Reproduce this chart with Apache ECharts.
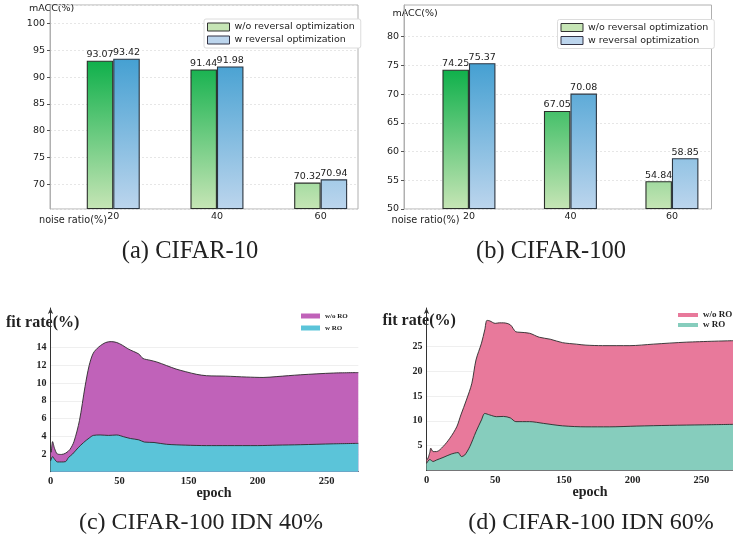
<!DOCTYPE html>
<html>
<head>
<meta charset="utf-8">
<script src="https://cdn.jsdelivr.net/npm/echarts@6/dist/echarts.min.js"></script>
<style>
  html, body { margin: 0; padding: 0; background: #fff; }
  #chart { width: 733px; height: 542px; }
</style>
</head>
<body>
<div id="chart"></div>
<script>
// ---- data ----
const noiseRatios = ['20', '40', '60'];
const cifar10Without = [93.07, 91.44, 70.32];
const cifar10With = [93.42, 91.98, 70.94];
const cifar100Without = [74.25, 67.05, 54.84];
const cifar100With = [75.37, 70.08, 58.85];

const epochTickLabels = ['0', '50', '150', '200', '250'];

// fit rate curves, [epoch position, fit rate %]
const idn40Without = [
  [0, 3.0], [0.5, 2.2], [1.5, 3.4], [3, 2.6], [5, 2.0], [8, 1.95], [11, 2.1], [14, 2.5],
  [17, 3.4], [21, 5.8], [25, 9.6], [28, 12.0], [31, 13.4], [35, 14.1], [40, 14.6], [44, 14.7],
  [48, 14.6], [52, 14.3], [56, 13.9], [60, 13.6], [64, 13.3], [67, 12.8], [72, 12.6], [77, 12.4],
  [84, 12.0], [91, 11.6], [98, 11.3], [106, 11.0], [113, 10.85], [127, 10.8], [142, 10.7],
  [154, 10.65], [164, 10.75], [181, 10.95], [205, 11.15], [223, 11.2]
];
const idn40With = [
  [0, 1.2], [1.5, 1.7], [3, 1.4], [5, 1.1], [8, 1.1], [11, 1.15], [13, 1.6], [16, 2.0],
  [20, 2.7], [24, 3.3], [28, 3.8], [31, 4.1], [36, 4.15], [42, 4.1], [48, 4.15], [53, 3.95],
  [58, 3.75], [64, 3.6], [68, 3.35], [75, 3.3], [84, 3.1], [98, 3.0], [113, 2.95], [128, 2.95],
  [150, 2.95], [164, 3.0], [181, 3.05], [205, 3.15], [223, 3.2]
];
const idn60Without = [
  [0, 2.7], [0.5, 2.2], [2.4, 3.6], [3.1, 4.5], [4.8, 3.8], [7.3, 3.8], [12, 4.8], [17, 6.5],
  [22, 8.8], [25, 11.2], [29, 14.2], [33, 17.6], [36, 22.3], [40, 25.7], [42.4, 28.4], [44, 30.3],
  [46, 30.2], [50, 29.7], [53, 29.8], [56, 29.8], [61, 29.4], [65, 28.0], [68, 27.9], [75, 27.7],
  [82, 26.9], [90, 26.5], [99, 25.8], [109, 25.5], [116, 25.3], [128, 25.2], [148, 25.2],
  [165, 25.5], [189, 25.9], [223, 26.2]
];
const idn60With = [
  [0, 1.4], [2.4, 2.2], [4.8, 1.8], [7.3, 2.1], [12, 2.6], [18, 3.3], [23, 3.6], [25.4, 2.8],
  [27.8, 3.1], [31.5, 4.8], [36, 7.8], [40, 10.2], [42.4, 11.5], [46, 11.2], [51, 10.85],
  [56, 10.9], [61, 10.6], [65, 9.85], [75, 9.85], [85, 9.5], [99, 9.0], [116, 8.8], [133, 8.8],
  [153, 8.95], [177, 9.1], [201, 9.2], [223, 9.3]
];

// ---- styling helpers ----
const SANS = 'DejaVu Sans';
const SERIF = 'Liberation Serif';
const GREEN_LIGHT = '#c6e5b5', GREEN_DARK = '#0fb04b';
const BLUE_LIGHT = '#bcd5ed', BLUE_DARK = '#45a0d2';
const PURPLE = '#c062b9', CYAN = '#5bc4d9';
const PINK = '#e8799b', TEAL = '#86cdbd';

function hexToRgb(h) {
  const n = parseInt(h.slice(1), 16);
  return [(n >> 16) & 255, (n >> 8) & 255, n & 255];
}
function mix(a, b, t) {
  const c1 = hexToRgb(a), c2 = hexToRgb(b);
  const c = c1.map((v, i) => Math.round(v + (c2[i] - v) * t));
  return 'rgb(' + c.join(',') + ')';
}
// colour depends on the bar's height so the shading reads as one vertical ramp
function barGradient(v, axisMin, seriesMax, light, dark) {
  const t = Math.max(0, Math.min(1, (v - axisMin) / (seriesMax - axisMin)));
  return {
    type: 'linear', x: 0, y: 0, x2: 0, y2: 1,
    colorStops: [{ offset: 0, color: mix(light, dark, t) }, { offset: 1, color: light }]
  };
}

function barSeries(name, values, axisIdx, axisMin, light, dark, edge) {
  const vmax = Math.max(...values);
  return {
    type: 'bar', name, xAxisIndex: axisIdx, yAxisIndex: axisIdx,
    barWidth: 26.5, barGap: '0%',
    itemStyle: { color: light, borderColor: edge, borderWidth: 1.1 },
    data: values.map((v, i) => ({
      value: [i, v],
      itemStyle: { color: barGradient(v, axisMin, vmax, light, dark) }
    })),
    label: {
      show: true, position: 'top', distance: 1,
      formatter: p => p.value[1].toFixed(2),
      fontFamily: SANS, fontSize: 9.5, color: '#222'
    }
  };
}

function areaSeries(name, points, axisIdx, fill) {
  return {
    type: 'line', name, xAxisIndex: axisIdx, yAxisIndex: axisIdx,
    data: points, symbol: 'none', smooth: 0.3,
    lineStyle: { color: '#2a2a2a', width: 0.9 },
    itemStyle: { color: fill },
    areaStyle: { color: fill, opacity: 1 }
  };
}

function hiddenXAxis(gridIndex, min, max) {
  return { type: 'value', gridIndex, min, max, show: false };
}
function barXAxis(gridIndex, min, max) {
  return {
    type: 'value', gridIndex, min, max,
    axisLine: { show: false, onZero: false }, axisTick: { show: false }, splitLine: { show: false },
    axisLabel: {
      customValues: noiseRatios.map((_, i) => i),
      formatter: v => noiseRatios[Math.round(v)],
      fontFamily: SANS, fontSize: 9.5, color: '#222', margin: 3
    }
  };
}
// frame-side axis of a bar panel: only the spine
function barSpineYAxis(gridIndex, min, max) {
  return {
    type: 'value', gridIndex, min, max, startValue: min,
    axisLine: { show: true, onZero: false, lineStyle: { color: '#b0b0b0' } },
    axisTick: { show: false }, axisLabel: { show: false }, splitLine: { show: false }
  };
}
// tick labels, tick marks and dashed grid lines of a bar panel
function barTickYAxis(gridIndex, min, max, interval) {
  return {
    type: 'value', gridIndex, min, max, interval,
    axisLine: { show: false, onZero: false },
    axisTick: { show: true, length: 3, lineStyle: { color: '#555' } },
    axisLabel: { fontFamily: SANS, fontSize: 9.5, color: '#222', margin: 5 },
    splitLine: { show: true, lineStyle: { color: '#e6e6e6', type: [2, 2] } }
  };
}
function epochXAxis(gridIndex) {
  return {
    type: 'value', gridIndex, min: 0, max: 223, interval: 50,
    axisLine: { show: true, onZero: false, lineStyle: { color: '#222', width: 1 } },
    axisTick: { show: false }, splitLine: { show: false },
    axisLabel: {
      showMaxLabel: false,
      formatter: v => (v % 50 === 0 ? epochTickLabels[v / 50] : ''),
      fontFamily: SERIF, fontWeight: 'bold', fontSize: 10.5, color: '#222', margin: 4
    }
  };
}
function arrowYAxis(gridIndex, max) {
  return {
    type: 'value', gridIndex, min: 0, max,
    axisLine: { show: true, onZero: false, symbol: ['none', 'arrow'], symbolSize: [4, 6], lineStyle: { color: '#333', width: 1 } },
    axisTick: { show: false }, axisLabel: { show: false }, splitLine: { show: false }
  };
}
function labelYAxis(gridIndex, max, interval) {
  return {
    type: 'value', gridIndex, min: 0, max, interval,
    axisLine: { show: false, onZero: false }, axisTick: { show: false },
    axisLabel: { showMinLabel: false, fontFamily: SERIF, fontWeight: 'bold', fontSize: 10, color: '#222', margin: 4 },
    splitLine: { show: true, lineStyle: { color: '#efefef', width: 1 } }
  };
}

function barLegend(left, top) {
  return {
    left, top, orient: 'vertical', icon: 'rect',
    itemWidth: 22, itemHeight: 8, itemGap: 3,
    padding: [3, 6, 3, 3],
    borderColor: '#dcdcdc', borderWidth: 1, borderRadius: 2, backgroundColor: '#fff',
    textStyle: { fontFamily: SANS, fontSize: 9.5, color: '#222' },
    data: [
      { name: 'w/o reversal optimization', itemStyle: { color: GREEN_LIGHT, borderColor: '#333', borderWidth: 1 } },
      { name: 'w reversal optimization', itemStyle: { color: BLUE_LIGHT, borderColor: '#334', borderWidth: 1 } }
    ]
  };
}
function areaLegend(left, top, c1, c2, fontSize, w, h, gap) {
  return {
    left, top, orient: 'vertical', icon: 'rect',
    itemWidth: w, itemHeight: h, itemGap: gap, padding: 0,
    textStyle: { fontFamily: SERIF, fontWeight: 'bold', fontSize, color: '#222' },
    data: [
      { name: 'w/o RO', itemStyle: { color: c1, borderWidth: 0 } },
      { name: 'w RO', itemStyle: { color: c2, borderWidth: 0 } }
    ]
  };
}

function label(text, x, y, font, align) {
  return {
    type: 'text', x, y,
    style: { text, font, fill: '#222', align: align || 'left', verticalAlign: 'middle' }
  };
}

const NB = { outerBoundsMode: 'none' };
const option = {
  animation: false,
  backgroundColor: '#fff',
  grid: [
    // (a) CIFAR-10
    Object.assign({ left: 50, top: 5, width: 308, height: 204, show: true, borderColor: '#b0b0b0', borderWidth: 1 }, NB),
    // (b) CIFAR-100
    Object.assign({ left: 404, top: 5, width: 307.5, height: 204, show: true, borderColor: '#b0b0b0', borderWidth: 1 }, NB),
    // (c) IDN 40%: curves / tick labels + grid lines
    Object.assign({ left: 50.5, top: 308, width: 307.8, height: 163.7 }, NB),
    Object.assign({ left: 50.5, top: 347.7, width: 307.8, height: 124 }, NB),
    // (d) IDN 60%: curves / tick labels + grid lines
    Object.assign({ left: 426.5, top: 308, width: 306.5, height: 162.4 }, NB),
    Object.assign({ left: 426.5, top: 346.7, width: 306.5, height: 123.7 }, NB),
    // (b) tick labels + grid lines, 50..80
    Object.assign({ left: 404, top: 36.7, width: 307.5, height: 172.3 }, NB)
  ],
  xAxis: [
    barXAxis(0, -0.61, 2.36),
    barXAxis(1, -0.64, 2.39),
    epochXAxis(2),
    hiddenXAxis(3, 0, 223),
    epochXAxis(4),
    hiddenXAxis(5, 0, 223),
    hiddenXAxis(6, 0, 1)
  ],
  yAxis: [
    {
      type: 'value', gridIndex: 0, min: 65.4, max: 103.45, startValue: 65.4, splitNumber: 8,
      axisLine: { show: true, onZero: false, lineStyle: { color: '#b0b0b0' } },
      axisTick: { show: true, length: 3, lineStyle: { color: '#555' } },
      axisLabel: { fontFamily: SANS, fontSize: 9.5, color: '#222', margin: 5, showMinLabel: false, showMaxLabel: false },
      splitLine: { show: true, lineStyle: { color: '#e6e6e6', type: [2, 2] } }
    },
    barSpineYAxis(1, 50, 85.5),
    arrowYAxis(2, 18.5),
    labelYAxis(3, 14, 2),
    arrowYAxis(4, 32.8),
    labelYAxis(5, 25, 5),
    barTickYAxis(6, 50, 80, 5)
  ],
  legend: [
    barLegend(204, 19),
    barLegend(557.5, 19.5),
    areaLegend(301, 312.5, PURPLE, CYAN, 7, 19, 5, 5),
    areaLegend(678, 310.5, PINK, TEAL, 9, 20, 4, 1)
  ],
  series: [
    barSeries('w/o reversal optimization', cifar10Without, 0, 65.4, GREEN_LIGHT, GREEN_DARK, '#2b2f2b'),
    barSeries('w reversal optimization', cifar10With, 0, 65.4, BLUE_LIGHT, BLUE_DARK, '#2b3540'),
    barSeries('w/o reversal optimization', cifar100Without, 1, 50, GREEN_LIGHT, GREEN_DARK, '#2b2f2b'),
    barSeries('w reversal optimization', cifar100With, 1, 50, BLUE_LIGHT, BLUE_DARK, '#2b3540'),
    areaSeries('w/o RO', idn40Without, 2, PURPLE),
    areaSeries('w RO', idn40With, 2, CYAN),
    areaSeries('w/o RO', idn60Without, 4, PINK),
    areaSeries('w RO', idn60With, 4, TEAL)
  ],
  graphic: [
    label('mACC(%)', 29, 9, '9.5px "DejaVu Sans"'),
    label('mACC(%)', 392.5, 13.3, '9.5px "DejaVu Sans"'),
    label('noise ratio(%)', 39, 220.7, '9.7px "DejaVu Sans"'),
    label('noise ratio(%)', 391.5, 220, '9.7px "DejaVu Sans"'),
    label('fit rate(%)', 6, 322.7, 'bold 16px "Liberation Serif"'),
    label('fit rate(%)', 382.5, 320.7, 'bold 16px "Liberation Serif"'),
    label('epoch', 214, 493.3, 'bold 14px "Liberation Serif"', 'center'),
    label('epoch', 590, 492.7, 'bold 14px "Liberation Serif"', 'center'),
    label('(a) CIFAR-10', 190, 252, '24.5px "Liberation Serif"', 'center'),
    label('(b) CIFAR-100', 551, 252, '24.5px "Liberation Serif"', 'center'),
    label('(c) CIFAR-100 IDN 40%', 201, 523, '24px "Liberation Serif"', 'center'),
    label('(d) CIFAR-100 IDN 60%', 591, 523, '24px "Liberation Serif"', 'center')
  ]
};

const chart = echarts.init(document.getElementById('chart'), null, { renderer: 'canvas' });
chart.setOption(option);
</script>
</body>
</html>
